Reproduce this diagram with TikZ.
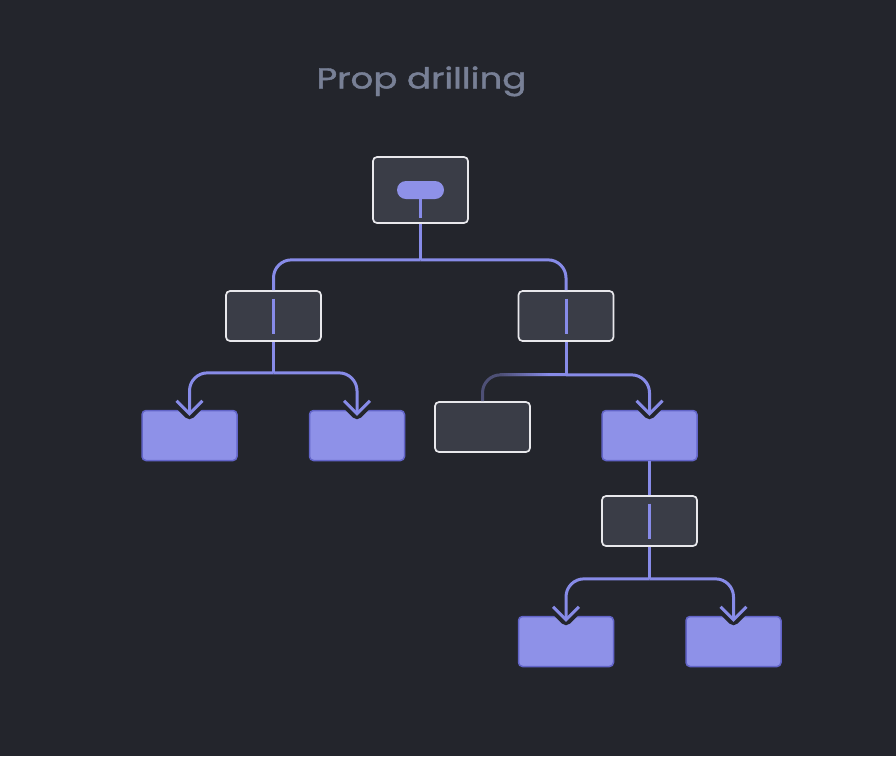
\documentclass[tikz,border=0pt]{standalone}
\usepackage{fontspec}
\newfontfamily\titlefont{Poppins}[FakeBold=1.3]
\usetikzlibrary{calc}
\definecolor{bg}{RGB}{35,37,44}
\definecolor{boxfill}{RGB}{58,61,71}
\definecolor{boxborder}{RGB}{232,232,236}
\definecolor{pfill}{RGB}{142,145,232}
\definecolor{pborder}{RGB}{98,100,200}
\definecolor{linec}{RGB}{135,139,232}
\definecolor{dimc}{RGB}{78,80,118}
\definecolor{titlec}{RGB}{120,128,150}
\begin{document}
\begin{tikzpicture}[x=1pt,y=-1pt,
  darkbox/.style={draw=boxborder, fill=boxfill, line width=1.7pt, rounded corners=4pt,
    minimum width=95pt, minimum height=50pt, inner sep=0pt},
  purplebox/.style={draw=pborder, fill=pfill, line width=1.5pt, rounded corners=4pt,
    minimum width=95pt, minimum height=50pt, inner sep=0pt},
  pillbox/.style={fill=pfill, rounded corners=9pt, minimum width=47pt, minimum height=18pt, inner sep=0pt},
  conn/.style={draw=linec, line width=3pt, rounded corners=18pt},
  dimconn/.style={draw=dimc, line width=3pt, rounded corners=18pt},
  stem/.style={draw=linec, line width=3pt},
  chev/.pic={
    \draw[bg, line width=11pt, line join=round, line cap=round] (-13,-13) -- (0,0) -- (13,-13);
  },
  chevtip/.pic={
    \draw[linec, line width=3pt, line join=miter] (-13,-13) -- (0,0) -- (13,-13);
  }
]
\fill[bg] (0,0) rectangle (896,756);
\useasboundingbox (0,0) rectangle (896,756);

\node[text=titlec, font=\titlefont\fontsize{29}{34}\selectfont, anchor=base, inner sep=0pt] (title) at (421.5,88.5)
  {\scalebox{1.23}[1]{Prop drilling}};

% nodes
\node[darkbox, minimum height=66pt] (root) at (420.5,190) {};
\node[pillbox] (pill) at (420.5,190) {};
\node[darkbox] (L1) at (273.5,316) {};
\node[darkbox] (R1) at (566,316) {};
\node[purplebox] (LL) at (189.5,435.5) {};
\node[purplebox] (LR) at (357,435.5) {};
\node[darkbox] (RL) at (482.5,427) {};
\node[purplebox] (RR) at (649.5,435.5) {};
\node[darkbox] (M) at (649.5,521) {};
\node[purplebox] (BL) at (566,641.5) {};
\node[purplebox] (BR) at (733.5,641.5) {};

% coordinates
\coordinate (j0) at ($(root.south)+(0,36)$);
\coordinate (j1) at ($(L1.south)+(0,31)$);
\coordinate (j2) at ($(R1.south)+(0,33)$);
\coordinate (j3) at ($(M.south)+(0,32)$);
\coordinate (tLL) at ($(LL.north)+(0,4)$);
\coordinate (tLR) at ($(LR.north)+(0,4)$);
\coordinate (tRR) at ($(RR.north)+(0,4)$);
\coordinate (tBL) at ($(BL.north)+(0,4)$);
\coordinate (tBR) at ($(BR.north)+(0,4)$);

% halos (notches)
\foreach \t in {tLL,tLR,tRR,tBL,tBR} { \pic at (\t) {chev}; }

% stems inside boxes
\draw[stem] (pill.south) -- ++(0,19);
\draw[stem] ($(L1.center)+(0,-17.5)$) -- ($(L1.center)+(0,17.5)$);
\draw[stem] ($(R1.center)+(0,-17.5)$) -- ($(R1.center)+(0,17.5)$);
\draw[stem] ($(M.center)+(0,-17.5)$) -- ($(M.center)+(0,17.5)$);

% connectors
\draw[conn] (root.south) -- (j0);
\draw[conn] (j0) -| (L1.north);
\draw[conn] (j0) -| (R1.north);

\draw[conn] (L1.south) -- (j1);
\draw[conn] (j1) -| (tLL);
\draw[conn] (j1) -| (tLR);

\draw[conn] (R1.south) -- (j2);
\draw[dimconn] (j2) -| (RL.north);
% fading of the dim branch towards the active colour
\foreach \i in {0,...,24} {
  \pgfmathsetmacro{\p}{100*\i/24}
  \fill[linec!\p!dimc] ($(j2)+(-66+2*\i,-1.5)$) rectangle ($(j2)+(-63.5+2*\i,1.5)$);
}
\fill[linec] ($(j2)+(-18,-1.5)$) rectangle ($(j2)+(0,1.5)$);
\draw[conn] (j2) -| (tRR);

\draw[conn] (RR.south) -- (M.north);
\draw[conn] (M.south) -- (j3);
\draw[conn] (j3) -| (tBL);
\draw[conn] (j3) -| (tBR);

% arrow heads
\foreach \t in {tLL,tLR,tRR,tBL,tBR} { \pic at (\t) {chevtip}; }
\end{tikzpicture}
\end{document}
